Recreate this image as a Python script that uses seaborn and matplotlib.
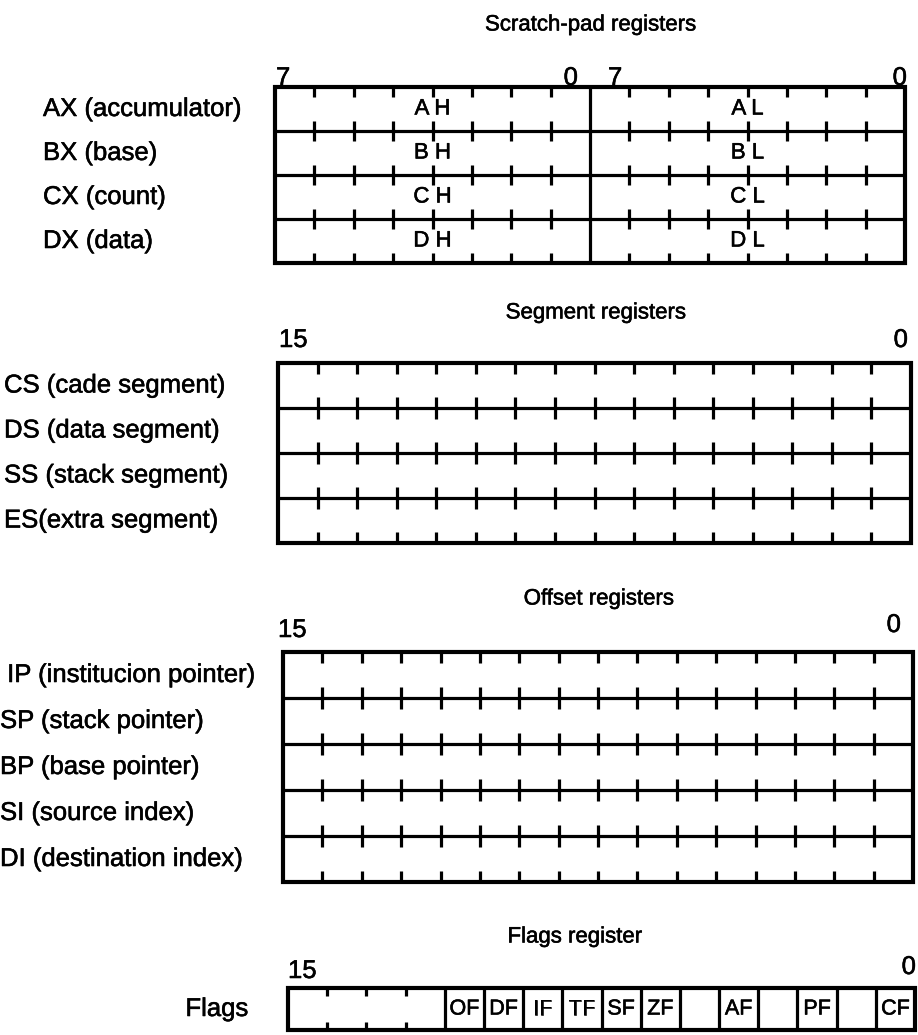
import matplotlib
matplotlib.use("Agg")
import matplotlib.pyplot as plt
import matplotlib.patheffects as pe
from matplotlib.patches import Rectangle
import seaborn as sns

# ---------------- data ----------------
scratch_title = "Scratch-pad registers"
scratch_labels = ["AX (accumulator)", "BX (base)", "CX (count)", "DX (data)"]
scratch_high = ["A H", "B H", "C H", "D H"]
scratch_low = ["A L", "B L", "C L", "D L"]
scratch_bits = ["7", "0", "7", "0"]

segment_title = "Segment registers"
segment_labels = ["CS (cade segment)", "DS (data segment)",
                  "SS (stack segment)", "ES(extra segment)"]

offset_title = "Offset registers"
offset_labels = [" IP (institucion pointer)", "SP (stack pointer)",
                 "BP (base pointer)", "SI (source index)",
                 "DI (destination index)"]

word_bits = ["15", "0"]

flags_title = "Flags register"
flags_label = "Flags"
flag_names = ["", "", "", "", "OF", "DF", "IF", "TF",
              "SF", "ZF", "", "AF", "", "PF", "", "CF"]

# ---------------- style ----------------
sns.set_theme(style="white")
plt.rcParams['font.family'] = ['Liberation Sans', 'DejaVu Sans']
HEAVY = [pe.withStroke(linewidth=0.4, foreground="black")]

W, H = 918, 1035
fig = plt.figure(figsize=(W / 100, H / 100), dpi=100)
ax = fig.add_axes([0, 0, 1, 1])
ax.set_xlim(0, W)
ax.set_ylim(H, 0)
ax.axis("off")

OUTER = 3.0
INNER = 2.3
LAB_FS = 18.5
BIT_FS = 18.5
TITLE_FS = 16


def txt(x, y, s, fs, ha="left", va="center"):
    ax.text(x, y, s, fontsize=fs, ha=ha, va=va, color="black",
            path_effects=HEAVY)


def register_block(left, right, top, row_h, nrows, nbits, tick, split=None):
    bottom = top + row_h * nrows
    bw = (right - left) / nbits
    for r in range(1, nrows):
        y = top + r * row_h
        ax.hlines(y, left, right, color="black", lw=INNER, capstyle="butt")
        for b in range(1, nbits):
            if split is not None and b == split:
                continue
            x = left + b * bw
            ax.vlines(x, y - tick, y + tick, color="black", lw=INNER)
    for b in range(1, nbits):
        if split is not None and b == split:
            continue
        x = left + b * bw
        ax.vlines(x, top, top + tick, color="black", lw=INNER)
        ax.vlines(x, bottom - tick, bottom, color="black", lw=INNER)
    if split is not None:
        ax.vlines(left + split * bw, top, bottom, color="black", lw=INNER)
    ax.add_patch(Rectangle((left, top), right - left, bottom - top,
                           fill=False, ec="black", lw=OUTER, joinstyle="miter"))
    return bw


# ---------------- scratch-pad ----------------
sx0, sx1, sy0, srh = 275, 905, 87, 44
txt(591, 25, scratch_title, TITLE_FS, ha="center")
bw = register_block(sx0, sx1, sy0, srh, len(scratch_labels), 16, 10, split=8)
mid = sx0 + 8 * bw
txt(sx0 + 1, 78, scratch_bits[0], BIT_FS)
txt(mid - 12, 78, scratch_bits[1], BIT_FS, ha="right")
txt(mid + 18, 78, scratch_bits[2], BIT_FS)
txt(sx1 + 2, 78, scratch_bits[3], BIT_FS, ha="right")
for i, (lab, hi, lo) in enumerate(zip(scratch_labels, scratch_high, scratch_low)):
    yc = sy0 + (i + 0.5) * srh
    txt(43, yc, lab, LAB_FS)
    txt(sx0 + 4 * bw, yc, hi, 16, ha="center")
    txt(mid + 4 * bw, yc, lo, 16, ha="center")

# ---------------- segment ----------------
gx0, gx1, gy0, grh = 278, 911, 363, 45
txt(596, 313, segment_title, TITLE_FS, ha="center")
register_block(gx0, gx1, gy0, grh, len(segment_labels), 16, 11)
txt(gx0 + 1, 340, word_bits[0], BIT_FS)
txt(gx1 - 3, 340, word_bits[1], BIT_FS, ha="right")
for i, lab in enumerate(segment_labels):
    txt(4, gy0 + (i + 0.5) * grh, lab, LAB_FS)

# ---------------- offset ----------------
ox0, ox1, oy0, orh = 283, 913, 652, 46
txt(599, 599, offset_title, TITLE_FS, ha="center")
register_block(ox0, ox1, oy0, orh, len(offset_labels), 16, 11)
txt(ox0 - 5, 630, word_bits[0], BIT_FS)
txt(ox1 - 12, 625, word_bits[1], BIT_FS, ha="right")
for i, lab in enumerate(offset_labels):
    txt(0, oy0 + (i + 0.5) * orh, lab, LAB_FS)

# ---------------- flags ----------------
fx0, fx1, fy0, fh = 288, 915, 988, 42
txt(575, 937, flags_title, TITLE_FS, ha="center")
txt(217, fy0 + fh / 2, flags_label, LAB_FS, ha="center")
txt(fx0, 971, word_bits[0], BIT_FS)
txt(fx1 + 1, 967, word_bits[1], BIT_FS, ha="right")
fbw = (fx1 - fx0) / len(flag_names)
first_flag = 4
for b in range(1, len(flag_names)):
    x = fx0 + b * fbw
    if b < first_flag:
        ax.vlines(x, fy0, fy0 + 8, color="black", lw=INNER)
        ax.vlines(x, fy0 + fh - 8, fy0 + fh, color="black", lw=INNER)
    else:
        ax.vlines(x, fy0, fy0 + fh, color="black", lw=INNER)
for b, name in enumerate(flag_names):
    if name:
        txt(fx0 + (b + 0.5) * fbw, fy0 + fh / 2, name, 15.5, ha="center")
ax.add_patch(Rectangle((fx0, fy0), fx1 - fx0, fh, fill=False, ec="black",
                       lw=OUTER, joinstyle="miter"))

fig.savefig("out.png", dpi=100, facecolor="white")
